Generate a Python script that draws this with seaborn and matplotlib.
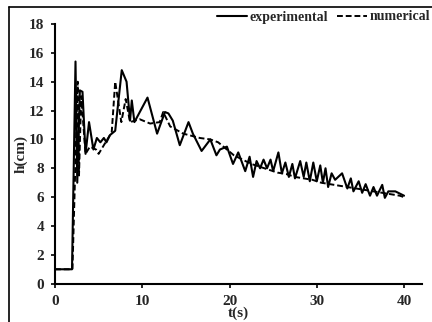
import numpy as np
import pandas as pd
import seaborn as sns
import matplotlib
matplotlib.use("Agg")
import matplotlib.pyplot as plt
from matplotlib.lines import Line2D

# Experimental series
t_exp = [0, 1.95, 2.35, 2.55, 2.85, 3.15, 3.5, 3.9, 4.4, 4.8, 5.2, 5.6, 5.9, 6.3, 6.9,
         7.65, 8.2, 8.6, 8.8, 9.1, 10.6, 11.7, 12.6, 13.0, 13.5, 14.3, 15.3, 15.8,
         16.8, 17.8, 18.5, 18.9, 19.7, 20.4, 21.0, 21.8, 22.3, 22.7, 23.1, 23.5, 23.9,
         24.3, 24.7, 25.0, 25.6, 26.0, 26.4, 26.8, 27.2, 27.5, 28.1, 28.5, 28.8, 29.2,
         29.6, 30.0, 30.4, 30.7, 31.0, 31.3, 31.7, 32.1, 32.9, 33.5, 33.9, 34.2, 34.8,
         35.2, 35.6, 36.1, 36.5, 36.9, 37.5, 37.8, 38.2, 39.0, 40.0]
h_exp = [1.0, 1.0, 15.4, 7.0, 13.4, 13.3, 9.0, 11.2, 9.3, 10.1, 9.8, 10.1, 9.8, 10.3, 10.6,
         14.8, 14.0, 11.3, 12.7, 11.2, 12.9, 10.4, 11.9, 11.8, 11.3, 9.6, 11.2, 10.4,
         9.2, 10.0, 8.9, 9.3, 9.5, 8.3, 9.1, 7.8, 8.8, 7.4, 8.5, 8.0, 8.6,
         8.0, 8.6, 7.8, 9.1, 7.65, 8.4, 7.4, 8.3, 7.3, 8.5, 7.4, 8.4, 7.1,
         8.4, 7.1, 8.2, 7.0, 8.0, 6.7, 7.65, 7.2, 7.65, 6.6, 7.3, 6.4, 7.1,
         6.3, 6.9, 6.1, 6.7, 6.1, 6.85, 5.95, 6.4, 6.4, 6.1]

# Numerical series
t_num = [0, 2.0, 2.6, 2.75, 3.0, 3.5, 4.0, 4.7, 5.0, 5.8, 6.5, 6.9, 7.6, 8.1, 8.6, 9.7,
         10.9, 12.0, 12.4, 13.2, 14.7, 16.6, 17.8, 18.7, 19.7, 20.5, 21.5, 22.5,
         23.5, 24.5, 25.5, 26.5, 27.5, 28.5, 29.5, 30.5, 31.5, 32.5, 33.5, 34.5,
         35.5, 36.5, 37.5, 38.5, 39.5, 40.0]
h_num = [1.0, 1.0, 14.0, 7.5, 13.0, 9.0, 9.5, 9.3, 9.0, 9.8, 10.5, 14.0, 11.2, 12.8, 11.2,
         11.4, 11.1, 11.2, 11.9, 10.9, 10.4, 10.1, 10.0, 9.8, 9.3, 8.9, 8.6, 8.3,
         8.1, 7.9, 7.7, 7.6, 7.4, 7.3, 7.2, 7.0, 6.9, 6.8, 6.7, 6.6,
         6.5, 6.4, 6.3, 6.2, 6.1, 6.0]

x_ticks = [0, 10, 20, 30, 40]
y_ticks = [0, 2, 4, 6, 8, 10, 12, 14, 16, 18]

sns.set_theme(style="white")
plt.rcParams['font.family'] = ['Liberation Serif', 'DejaVu Serif']
plt.rcParams['font.weight'] = 'bold'

fig = plt.figure(figsize=(4.32, 3.22), dpi=100)
ax = fig.add_axes([55/432, 38.3/322, (421.5-55)/432, (283.7-24)/322])

df_exp = pd.DataFrame({"t": t_exp, "h": h_exp})
df_num = pd.DataFrame({"t": t_num, "h": h_num})
sns.lineplot(data=df_num, x="t", y="h", ax=ax, color="black", lw=1.4,
             linestyle=(0, (3, 1.5)), sort=False, estimator=None)
sns.lineplot(data=df_exp, x="t", y="h", ax=ax, color="black", lw=1.5,
             sort=False, estimator=None)

ax.set_xlim(0, 42)
ax.set_ylim(0, 18)
ax.set_xticks(x_ticks)
ax.set_yticks(y_ticks)
for s in ["top", "right"]:
    ax.spines[s].set_visible(False)
for s in ["left", "bottom"]:
    ax.spines[s].set_color("black")
    ax.spines[s].set_linewidth(1.5)
ax.tick_params(axis="both", direction="out", length=3, width=1.2, color="black",
               labelsize=11, pad=5, bottom=True, left=True)
for lab in ax.get_xticklabels() + ax.get_yticklabels():
    lab.set_fontweight("bold")
ax.set_xlabel("t(s)", fontsize=11, fontweight="bold", labelpad=-1)
ax.set_ylabel("h(cm)", fontsize=11, fontweight="bold", labelpad=1)

handles = [Line2D([0], [0], color="black", lw=1.5),
           Line2D([0], [0], color="black", lw=1.4, linestyle=(0, (3, 1.5)))]
fig.legend(handles, ["experimental", "numerical"], loc="center right",
           bbox_to_anchor=(1.0, 1 - 17/322), ncol=2, frameon=False,
           prop={"weight": "bold", "size": 10}, handlelength=2.2, handletextpad=0.2,
           columnspacing=0.6, borderaxespad=0, borderpad=0.1)

# figure frame lines
fig.add_artist(Line2D([9/432, 1.0], [1 - 7/322, 1 - 7/322], transform=fig.transFigure,
                      color="black", lw=1.2))
fig.add_artist(Line2D([9/432, 9/432], [0, 1 - 7/322], transform=fig.transFigure,
                      color="black", lw=1.2))

fig.savefig("out.png", dpi=100)
